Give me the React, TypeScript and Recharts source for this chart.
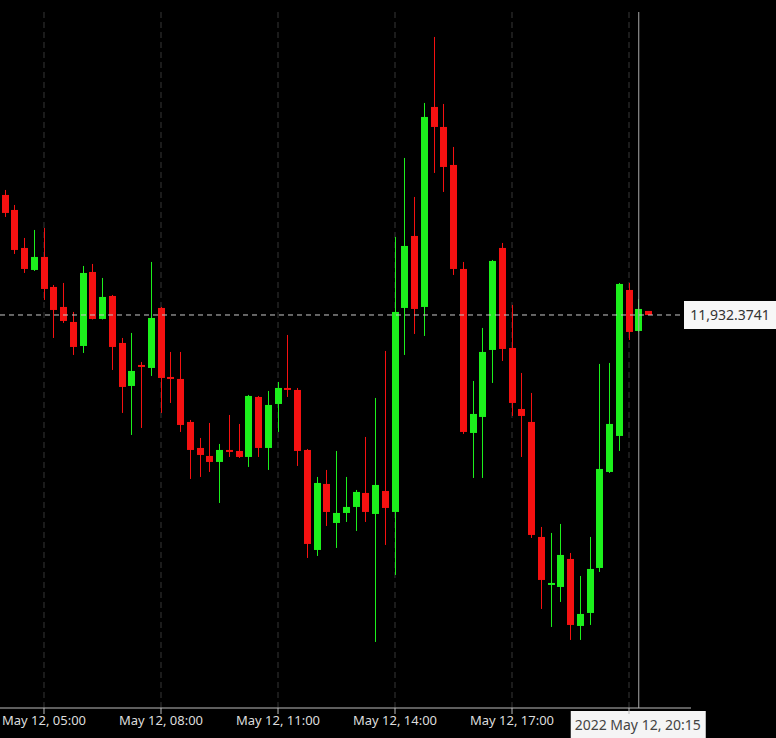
import { Bar, CartesianGrid, ComposedChart, ReferenceLine, XAxis, YAxis } from 'recharts'

const times = [
  '04:00', '04:15', '04:30', '04:45', '05:00', '05:15', '05:30', '05:45',
  '06:00', '06:15', '06:30', '06:45', '07:00', '07:15', '07:30', '07:45',
  '08:00', '08:15', '08:30', '08:45', '09:00', '09:15', '09:30', '09:45',
  '10:00', '10:15', '10:30', '10:45', '11:00', '11:15', '11:30', '11:45',
  '12:00', '12:15', '12:30', '12:45', '13:00', '13:15', '13:30', '13:45',
  '14:00', '14:15', '14:30', '14:45', '15:00', '15:15', '15:30', '15:45',
  '16:00', '16:15', '16:30', '16:45', '17:00', '17:15', '17:30', '17:45',
  '18:00', '18:15', '18:30', '18:45', '19:00', '19:15', '19:30', '19:45',
  '20:00', '20:15', '20:30',
]

const opens = [
  12028.4, 12016.4, 11986.0, 11968.4, 11978.8, 11954.8, 11938.8, 11926.8,
  11907.6, 11966.8, 11929.2, 11947.6, 11910.0, 11875.6, 11892.4, 11890.0,
  11938.0, 11882.8, 11881.2, 11846.8, 11826.0, 11819.6, 11814.8, 11824.4,
  11823.6, 11818.8, 11866.8, 11826.0, 11861.2, 11874.0, 11872.4, 11824.4,
  11744.4, 11797.2, 11766.0, 11774.0, 11778.8, 11790.0, 11773.2, 11791.6,
  11774.8, 11938.0, 11995.6, 11938.8, 12098.8, 12082.8, 12052.4, 11969.2,
  11838.0, 11850.8, 11904.4, 11986.0, 11906.0, 11857.2, 11846.8, 11754.8,
  11716.4, 11714.8, 11737.2, 11683.6, 11694.0, 11730.0, 11806.8, 11835.6,
  11952.4, 11919.6, 11935.6,
]

const highs = [
  12032.4, 12020.4, 11994.0, 12000.4, 12002.0, 11956.4, 11958.0, 11934.8,
  11971.6, 11973.2, 11962.0, 11948.4, 11914.0, 11918.0, 11894.8, 11974.8,
  11938.8, 11902.8, 11902.8, 11848.4, 11834.0, 11846.0, 11829.2, 11852.4,
  11845.2, 11868.4, 11867.6, 11871.6, 11878.8, 11916.4, 11874.0, 11825.2,
  11802.8, 11808.4, 11823.6, 11802.8, 11792.4, 11834.8, 11866.0, 11903.6,
  11994.8, 12058.0, 12026.8, 12102.0, 12154.8, 12101.2, 12066.8, 11974.8,
  11879.6, 11922.0, 11976.4, 11990.0, 11940.4, 11886.0, 11870.0, 11762.8,
  11758.0, 11765.2, 11742.0, 11723.6, 11754.8, 11893.2, 11894.0, 11958.0,
  11958.0, 11945.2, 11935.6,
]

const lows = [
  12010.8, 11981.2, 11966.0, 11967.6, 11944.4, 11914.0, 11926.0, 11900.4,
  11902.0, 11928.8, 11928.8, 11888.4, 11854.0, 11836.4, 11842.0, 11883.6,
  11854.0, 11862.0, 11838.8, 11801.2, 11802.8, 11806.8, 11782.0, 11818.8,
  11818.0, 11810.8, 11818.8, 11808.4, 11838.8, 11866.8, 11811.6, 11738.0,
  11739.6, 11763.6, 11746.0, 11766.8, 11759.6, 11766.8, 11670.8, 11748.4,
  11724.4, 11900.4, 11917.2, 11915.6, 12046.0, 12030.8, 11964.4, 11837.2,
  11802.0, 11802.0, 11878.0, 11895.6, 11851.6, 11818.8, 11754.0, 11697.2,
  11682.8, 11702.8, 11672.4, 11672.4, 11684.4, 11726.8, 11806.0, 11823.6,
  11912.4, 11919.0, 11932.3741,
]

const closes = [
  12014.0, 11984.4, 11969.2, 11978.8, 11953.2, 11936.4, 11927.6, 11906.8,
  11966.0, 11929.2, 11946.8, 11906.8, 11874.8, 11887.6, 11890.8, 11930.0,
  11882.0, 11881.2, 11844.4, 11824.4, 11820.4, 11814.8, 11824.4, 11822.8,
  11818.8, 11867.6, 11826.0, 11860.4, 11874.0, 11872.4, 11823.6, 11749.2,
  11798.0, 11774.8, 11774.0, 11778.8, 11790.8, 11774.8, 11796.4, 11778.0,
  11934.8, 11987.6, 11937.2, 12090.8, 12082.8, 12050.8, 11969.2, 11838.8,
  11853.2, 11902.8, 11975.6, 11905.2, 11862.0, 11851.6, 11756.4, 11720.4,
  11718.0, 11740.4, 11684.4, 11693.2, 11729.2, 11809.2, 11845.2, 11957.2,
  11918.8, 11937.2, 11932.3741,
]

const tickHours = [5, 8, 11, 14, 17, 20]
const lastPrice = 11932.3741
const cursorHour = 20.25
const cursorLabel = '2022 May 12, 20:15'

const UP = '#1cf01c'
const DOWN = '#f51111'
const FONT = '"Noto Sans", sans-serif'

const data = times.map((t, i) => {
  const [h, m] = t.split(':').map(Number)
  return {
    t: h + m / 60,
    open: opens[i],
    high: highs[i],
    low: lows[i],
    close: closes[i],
    range: [lows[i], highs[i]],
  }
})

function Candle(props: any) {
  const { x, y, width, height, payload } = props
  const { open, close, high, low } = payload
  const color = close >= open ? UP : DOWN
  const span = high - low || 1
  const py = (v: number) => y + ((high - v) / span) * height
  const cx = Math.round(x + width / 2) + 0.5
  const top = py(Math.max(open, close))
  const bottom = py(Math.min(open, close))
  return (
    <g>
      <line x1={cx} x2={cx} y1={y} y2={y + height} stroke={color} strokeWidth={1} />
      <rect x={cx - width / 2} y={top} width={width} height={Math.max(bottom - top, 2)} fill={color} />
    </g>
  )
}

function PriceTag({ viewBox }: any) {
  const right = viewBox.x + viewBox.width
  return (
    <g>
      <rect x={right - 7} y={viewBox.y - 14} width={100} height={28} fill="#f7f7f7" />
      <text x={right + 39} y={viewBox.y} textAnchor="middle" dominantBaseline="central"
        fontSize={14} fontFamily={FONT} fill="#333">
        {lastPrice.toLocaleString('en-US', { minimumFractionDigits: 4 })}
      </text>
    </g>
  )
}

function TimeTag({ viewBox }: any) {
  const bottom = viewBox.y + viewBox.height
  return (
    <g>
      <rect x={viewBox.x - 68} y={bottom + 3} width={135} height={32} fill="#f5f5f5" />
      <text x={viewBox.x - 1} y={bottom + 16} textAnchor="middle" dominantBaseline="central"
        fontSize={14} fontFamily={FONT} fill="#444">
        {cursorLabel}
      </text>
    </g>
  )
}

export default function App() {
  return (
    <div style={{ position: 'absolute', left: 0, top: 0, width: 776, height: 738, background: '#000' }}>
      <ComposedChart width={776} height={738} data={data} margin={{ top: 12, right: 85, bottom: 0, left: 0 }}>
        <CartesianGrid horizontal={false} syncWithTicks stroke="#363636" strokeDasharray="6 4" />
        <XAxis
          type="number"
          dataKey="t"
          domain={[3.8718, 21.5897]}
          allowDataOverflow
          ticks={tickHours}
          interval={0}
          height={30}
          tickSize={6}
          axisLine={{ stroke: '#bbb' }}
          tickLine={{ stroke: '#bbb' }}
          tick={{ fill: '#ddd', fontSize: 13, fontFamily: FONT }}
          tickFormatter={(v: number) => (v === 20 ? '' : `May 12, ${String(v).padStart(2, '0')}:00`)}
        />
        <YAxis hide domain={[11617.97, 12174.77]} allowDataOverflow />
        <Bar dataKey="range" barSize={7} shape={Candle} isAnimationActive={false} />
        <ReferenceLine y={lastPrice} stroke="#c8c8c8" strokeDasharray="5 4" label={PriceTag} />
        <ReferenceLine x={cursorHour} stroke="#aaa" label={TimeTag} />
      </ComposedChart>
    </div>
  )
}
